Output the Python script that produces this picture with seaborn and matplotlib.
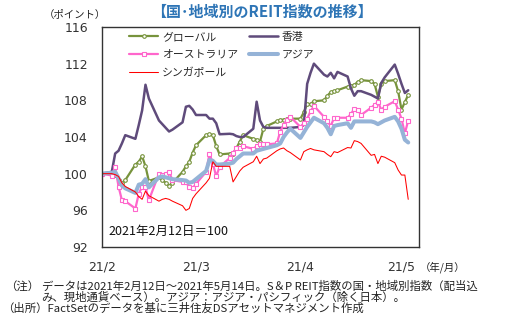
import matplotlib
matplotlib.use("Agg")
import matplotlib.pyplot as plt
import numpy as np
import pandas as pd
import seaborn as sns

# ---------------- data ----------------
dates = pd.bdate_range("2021-02-12", "2021-05-14")

global_idx = [100.0, 100.0, 99.9, 99.3, 99.0, 99.3,
              101.0, 101.3, 101.9, 100.8, 99.2,
              99.6, 99.3, 99.0, 98.7, 99.0,
              100.2, 100.8, 101.3, 102.3, 103.1,
              104.2, 104.3, 104.2, 103.0, 102.1,
              102.2, 102.2, 102.8, 103.5, 104.2,
              103.8, 103.7, 103.5, 104.9, 105.2,
              105.7, 105.85, 105.9, 106.0, 106.0,
              106.0, 106.7, 107.6, 107.6, 107.9,
              108.0, 108.5, 108.9, 109.0, 109.1,
              109.5, 109.6, 109.7, 110.0, 110.2,
              110.1, 109.8, 108.4, 109.8, 110.1,
              110.2, 109.0, 107.0, 107.8, 108.6]

hongkong = [100.0, 100.2, 102.2, 102.5, 103.3, 104.2,
            103.8, 105.3, 106.9, 109.7, 108.2,
            105.8, 105.4, 105.0, 104.6, 104.8,
            105.6, 107.3, 107.4, 107.0, 106.4,
            106.4, 106.0, 106.0, 105.5, 104.3,
            104.35, 104.3, 104.1, 104.0, 104.0,
            104.9, 107.85, 105.8, 105.1, 105.0,
            105.0, 105.0, 105.0, 105.0, 105.0,
            105.1, 105.3, 109.8, 111.0, 112.0,
            110.8, 110.6, 111.0, 110.4, 111.1,
            110.6, 109.3, 108.5, 109.0, 109.0,
            108.6, 108.4, 108.2, 109.9, 110.5,
            111.9, 110.9, 109.8, 108.8, 109.1]

australia = [100.0, 99.8, 100.7, 98.6, 97.1, 97.0,
             96.2, 97.8, 98.6, 98.5, 97.1,
             100.0, 99.9, 100.0, 100.2, 99.3,
             99.1, 99.1, 98.5, 98.4, 98.9,
             100.2, 102.2, 101.1, 99.7, 100.75,
             101.7, 102.3, 102.75, 102.8, 103.0,
             102.7, 103.0, 103.2, 103.2, 103.2,
             103.3, 104.6, 105.3, 105.9, 106.2,
             105.1, 105.5, 106.0, 106.8, 107.4,
             106.2, 105.7, 105.2, 106.1, 106.1,
             106.1, 106.5, 107.1, 107.0, 106.4,
             107.2, 107.5, 107.8, 107.0, 107.3,
             107.9, 107.0, 106.0, 104.4, 105.8]

asia = [100.0, 100.1, 100.2, 99.5, 98.7, 98.4,
        97.9, 98.8, 98.9, 99.4, 98.5,
        99.6, 99.7, 99.6, 99.5, 99.4,
        99.3, 99.25, 99.0, 99.1, 99.4,
        100.3, 101.5, 101.4, 101.0, 101.0,
        101.1, 101.2, 101.6, 101.9, 102.2,
        102.2, 102.5, 102.6, 102.7, 102.8,
        103.1, 103.3, 104.0, 104.5, 104.9,
        103.9, 104.5, 105.1, 105.6, 106.1,
        105.5, 105.0, 104.3, 105.2, 105.3,
        105.5, 105.0, 105.7, 105.7, 105.7,
        105.7, 105.6, 105.4, 105.6, 105.8,
        106.2, 105.7, 104.9, 103.7, 103.4]

singapore = [100.0, 100.0, 99.9, 99.7, 99.0, 98.6,
             98.0, 97.5, 97.2, 98.1, 97.6,
             97.0, 97.2, 97.3, 97.2, 97.0,
             96.5, 96.0, 96.2, 97.3, 97.8,
             99.0, 99.5, 101.3, 100.8, 100.8,
             100.8, 99.1, 99.7, 100.3, 100.7,
             101.3, 101.9, 101.1, 101.6, 101.7,
             102.5, 102.7, 102.8, 102.5, 102.3,
             101.5, 102.4, 102.6, 102.75, 102.6,
             102.4, 102.1, 101.85, 102.4, 102.3,
             102.85, 102.8, 103.6, 103.5, 103.3,
             102.0, 102.1, 101.1, 101.9, 101.8,
             101.2, 100.4, 99.85, 99.85, 97.2]

series_names = ["グローバル", "香港", "オーストラリア", "アジア", "シンガポール"]
tick_dates = ["2021-02-12", "2021-03-12", "2021-04-12", "2021-05-12"]
tick_labels = ["21/2", "21/3", "21/4", "21/5"]
y_ticks = [92, 96, 100, 104, 108, 112, 116]

df = pd.DataFrame({"date": dates,
                   "グローバル": global_idx,
                   "香港": hongkong,
                   "オーストラリア": australia,
                   "アジア": asia,
                   "シンガポール": singapore})

# ---------------- style ----------------
sns.set_theme(style="white")
plt.rcParams["font.family"] = ["Noto Sans CJK JP", "DejaVu Sans"]
plt.rcParams["axes.unicode_minus"] = False

W, H = 507, 323
fig = plt.figure(figsize=(W / 100, H / 100), dpi=100)
fig.patch.set_facecolor("white")
ax = fig.add_axes([101.7 / W, 1 - 247 / H, (419 - 101.7) / W, (247 - 27) / H])

styles = {
    "グローバル": dict(color="#77933C", lw=1.6, marker="o", markersize=2.6,
                   markerfacecolor="white", markeredgecolor="#77933C", markeredgewidth=0.8),
    "香港": dict(color="#5F4B7B", lw=1.8),
    "オーストラリア": dict(color="#FF66CC", lw=1.6, marker="s", markersize=3.0,
                     markerfacecolor="white", markeredgecolor="#FF66CC", markeredgewidth=0.8),
    "アジア": dict(color="#95B3D7", lw=2.9),
    "シンガポール": dict(color="#FF0000", lw=0.75),
}

for name in series_names:
    sns.lineplot(data=df, x="date", y=name, ax=ax, label=name, **styles[name])

# axes
start = pd.Timestamp("2021-02-12")
ax.set_xlim(start, start + pd.Timedelta(days=94.2))
ax.set_ylim(92, 116)
ax.set_yticks(y_ticks)
ax.set_xticks(pd.to_datetime(tick_dates))
ax.set_xticklabels(tick_labels)
ax.set_xlabel("")
ax.set_ylabel("")
for s in ax.spines.values():
    s.set_color("#333333")
    s.set_linewidth(1.0)
ax.tick_params(axis="both", direction="in", length=3.5, width=1.0, color="#333333",
               labelsize=9, labelcolor="#333333")
ax.tick_params(axis="y", pad=10)
ax.tick_params(axis="x", pad=10)
for lab in ax.get_xticklabels() + ax.get_yticklabels():
    lab.set_family("DejaVu Sans")

# legend (row-major order as in the reference)
h, l = ax.get_legend_handles_labels()
order = [0, 2, 4, 1, 3]
ax.legend([h[i] for i in order], [l[i] for i in order], ncol=2, loc="upper left",
          bbox_to_anchor=(0.087, 0.978), frameon=False, fontsize=7.8,
          handlelength=2.68, handletextpad=0.34, columnspacing=1.0,
          labelspacing=0.72, borderpad=0.0, borderaxespad=0.0, numpoints=1)

ax.text(0.02, 0.07, "2021年2月12日＝100", transform=ax.transAxes, fontsize=9,
        va="center", ha="left", color="#111111")

# figure texts
def fx(x):
    return x / W

def fy(y):
    return 1 - y / H

fig.text(fx(262), fy(12), "【国･地域別のREIT指数の推移】", ha="center", va="center",
         fontsize=10.8, fontweight="bold", color="#2E75B6")
fig.text(fx(75), fy(15), "（ポイント）", ha="center", va="center", fontsize=7.5, color="#222222")
fig.text(fx(443), fy(267.3), "（年/月）", ha="center", va="center", fontsize=7.5, color="#222222")

note_size = 8.2
fig.text(fx(5), fy(286.7), "（注）", ha="left", va="center", fontsize=note_size, color="#222222")
fig.text(fx(41.7), fy(286.7), "データは2021年2月12日～2021年5月14日。S＆P REIT指数の国・地域別指数（配当込",
         ha="left", va="center", fontsize=note_size, color="#222222")
fig.text(fx(41.7), fy(297.7), "み、現地通貨ベース）。アジア：アジア・パシフィック（除く日本）。",
         ha="left", va="center", fontsize=note_size, color="#222222")
fig.text(fx(2), fy(308.6), "（出所）FactSetのデータを基に三井住友DSアセットマネジメント作成",
         ha="left", va="center", fontsize=note_size, color="#222222")

fig.savefig("out.png", dpi=100, facecolor="white")
